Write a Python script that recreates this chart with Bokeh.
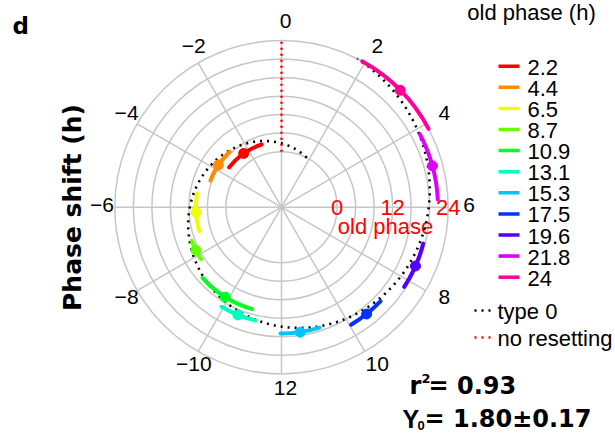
import numpy as np
from bokeh.plotting import figure
from bokeh.models import Range1d
from bokeh.core.properties import value
from bokeh.embed import file_html
from bokeh.resources import INLINE

# ---------------- data ----------------
old_phase = [2.2, 4.4, 6.5, 8.7, 10.9, 13.1, 15.3, 17.5, 19.6, 21.8, 24.0]
shift_mean = [-2.34, -3.75, -6.23, -7.78, -9.86, -10.53, 11.43, 9.43, 7.58, 4.98, 3.03]
shift_err = [1.17, 0.88, 0.85, 0.41, 1.07, 0.60, 0.60, 0.53, 0.62, 0.83, 1.10]
colors = ["#ff0000", "#ff8c00", "#eeff00", "#66ff00", "#00ff22", "#00ffc0",
          "#00c4ff", "#0033ff", "#5500ff", "#dd00ff", "#ff0099"]
legend_labels = ["2.2", "4.4", "6.5", "8.7", "10.9", "13.1", "15.3", "17.5", "19.6", "21.8", "24"]
y0 = 1.80
y0_err = 0.17
r2 = 0.93
angle_ticks = [0, 2, 4, 6, 8, 10, 12, -10, -8, -6, -4, -2]
radial_ticks = [0, 12, 24]
radial_grid = [0, 4, 8, 12, 16, 20, 24]
R_OFF = 12.0  # radius offset: old phase 0 sits on the inner ring

# ---------------- geometry ----------------
W, H = 615, 441
CX, CY = 281.0, 206.7     # centre in px
S = 4.63                  # px per data unit


def px(x):
    return (x - CX) / S


def py(y):
    return (CY - y) / S


def ang(h):
    return np.deg2rad(90.0 - 15.0 * np.asarray(h, dtype=float))


def polar_xy(h, op):
    r = np.asarray(op, dtype=float) + R_OFF
    a = ang(h)
    return r * np.cos(a), r * np.sin(a)


p = figure(width=W, height=H, output_backend="svg", toolbar_location=None,
           x_range=Range1d(px(0), px(W)), y_range=Range1d(py(H), py(0)),
           x_axis_type=None, y_axis_type=None, min_border=0)
p.grid.visible = False
p.outline_line_color = None
p.background_fill_color = "white"
p.border_fill_color = "white"

FONT = value("Liberation Sans")
BFONT = value("DejaVu Sans")
GRID = "#c6c6c6"

# grid circles
p.circle(x=[0] * len(radial_grid), y=[0] * len(radial_grid),
         radius=[g + R_OFF for g in radial_grid], fill_color=None,
         line_color=GRID, line_width=1.5)
# spokes
tick_h = np.array(angle_ticks, dtype=float)
rmax = radial_grid[-1] + R_OFF
sx, sy = rmax * np.cos(ang(tick_h)), rmax * np.sin(ang(tick_h))
p.segment(x0=[0] * len(tick_h), y0=[0] * len(tick_h), x1=sx, y1=sy,
          line_color=GRID, line_width=1.5)

# angle tick labels
lab_r = 183.5 / S
lx = lab_r * np.cos(ang(tick_h)) + 4.0 / S
ly = lab_r * np.sin(ang(tick_h)) + 2.3 / S
lab_txt = [("\u2212" + str(abs(t))) if t < 0 else str(t) for t in angle_ticks]
p.text(x=lx, y=ly, text=lab_txt, text_font=FONT, text_font_size="21px",
       text_align="center", text_baseline="middle", text_color="black")

# radial labels (red)
p.text(x=[t + R_OFF for t in radial_ticks], y=[0] * len(radial_ticks),
       text=[str(t) for t in radial_ticks], text_font=FONT, text_font_size="22px",
       text_align="center", text_baseline="middle", text_color="red")
p.text(x=[px(385)], y=[py(226)], text=["old phase"], text_font=FONT,
       text_font_size="22px", text_align="center", text_baseline="middle",
       text_color="red")

# model lines
op_fine = np.linspace(0, 24, 400)
tx, ty = polar_xy(y0 - op_fine, op_fine)
p.line(tx, ty, line_color="black", line_width=2.6, line_dash="2 5")
nx, ny = polar_xy(np.zeros_like(op_fine), op_fine)
p.line(nx, ny, line_color="red", line_width=2.5, line_dash="2 4")

# data arcs and means
m = np.array(shift_mean)
e = np.array(shift_err)
p.arc(x=[0] * len(m), y=[0] * len(m), radius=[o + R_OFF for o in old_phase],
      start_angle=ang(m + e), end_angle=ang(m - e), direction="anticlock",
      line_color=colors, line_width=4, line_cap="round")
dx, dy = polar_xy(m, old_phase)
p.scatter(dx, dy, size=10, fill_color=colors, line_color=colors)

# legend (manual)
p.text(x=[px(531)], y=[py(12)], text=["old phase (h)"], text_font=FONT,
       text_font_size="22px", text_align="center", text_baseline="middle",
       text_color="black")
leg_y = [65.7 + 21.1 * i for i in range(len(legend_labels))]
p.segment(x0=[px(498)] * len(leg_y), y0=[py(v) for v in leg_y],
          x1=[px(519)] * len(leg_y), y1=[py(v) for v in leg_y],
          line_color=colors, line_width=3.5)
p.text(x=[px(527)] * len(leg_y), y=[py(v + 1) for v in leg_y], text=legend_labels,
       text_font=FONT, text_font_size="22px", text_align="left",
       text_baseline="middle", text_color="black")
p.line([px(474), px(492)], [py(310), py(310)], line_color="black", line_width=2.5,
       line_dash="2 5")
p.line([px(474), px(492)], [py(337), py(337)], line_color="red", line_width=2.5,
       line_dash="2 5")
p.text(x=[px(497), px(497)], y=[py(311), py(338)], text=["type 0", "no resetting"],
       text_font=FONT, text_font_size="22px", text_align="left",
       text_baseline="middle", text_color="black")

# panel letter & axis title
p.text(x=[px(12)], y=[py(12)], text=["d"], text_font=BFONT, text_font_size="23px",
       text_font_style="bold", text_align="left", text_baseline="top")
p.text(x=[px(72)], y=[py(207)], text=["Phase shift (h)"], text_font=BFONT,
       text_font_size="25px", text_font_style="bold", text_align="center",
       text_baseline="middle", angle=np.pi / 2)

# statistics
p.text(x=[px(409)], y=[py(385)], text=["r"], text_font=BFONT, text_font_size="24px",
       text_font_style="bold", text_align="left", text_baseline="middle")
p.text(x=[px(421)], y=[py(378)], text=["2"], text_font=BFONT, text_font_size="13px",
       text_font_style="bold", text_align="left", text_baseline="middle")
p.text(x=[px(428)], y=[py(385)], text=["= %.2f" % r2], text_font=BFONT,
       text_font_size="24px", text_font_style="bold", text_align="left",
       text_baseline="middle")
p.text(x=[px(402)], y=[py(418)], text=["Y"], text_font=FONT, text_font_size="25px",
       text_font_style="bold", text_align="left", text_baseline="middle")
p.text(x=[px(417)], y=[py(425)], text=["0"], text_font=FONT, text_font_size="13px",
       text_font_style="bold", text_align="left", text_baseline="middle")
p.text(x=[px(424)], y=[py(418)], text=["= %.2f\u00b1%.2f" % (y0, y0_err)],
       text_font=BFONT, text_font_size="24px", text_font_style="bold",
       text_align="left", text_baseline="middle")

open("out.html", "w").write(file_html(p, INLINE))
